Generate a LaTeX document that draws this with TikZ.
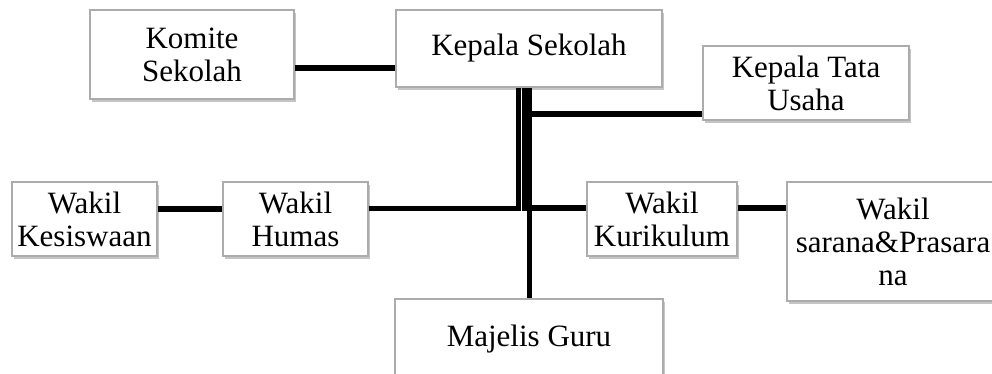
\documentclass[tikz,border=0pt]{standalone}
\usepackage{fontspec}
\setmainfont{Liberation Serif}
\usetikzlibrary{shadows}
\tikzset{
  box/.style={draw=gray!65, line width=0.7pt, fill=white, inner sep=0pt, align=center,
    font=\fontsize{15.5}{16.5}\selectfont,
    drop shadow={shadow xshift=0.8pt, shadow yshift=-1.4pt, opacity=0.45, fill=gray}},
  conn/.style={line width=3pt},
  vconn/.style={line width=2.5pt}
}
\begin{document}
\begin{tikzpicture}[x=0.5pt,y=-0.5pt]
\useasboundingbox (0,0) rectangle (992,374);
\clip (0,0) rectangle (992,374);
\fill[white] (0,0) rectangle (992,374);
% nodes
\node[box, minimum width=102pt, minimum height=44.5pt] (komite) at (192,54.5) {Komite\\Sekolah};
\node[box, minimum width=133pt, minimum height=38.5pt] (kepala) at (529,48.5) {Kepala Sekolah};
\node[box, minimum width=103pt, minimum height=37pt] (tata) at (806,83) {Kepala Tata\\Usaha};
\node[box, minimum width=72.5pt, minimum height=37pt] (kesis) at (84.5,219) {Wakil\\Kesiswaan};
\node[box, minimum width=72.5pt, minimum height=37pt] (humas) at (295.5,219) {Wakil\\Humas};
\node[box, minimum width=75pt, minimum height=37pt] (kurik) at (662,219) {Wakil\\Kurikulum};
\node[box, minimum width=106pt, minimum height=59.5pt] (sarana) at (893,241.5) {Wakil\\sarana\&Prasara\\na};
\node[box, minimum width=134pt, minimum height=40.5pt] (majelis) at (529,339.5) {Majelis Guru};
% helper coordinates
\coordinate (kk) at (0,68);
\coordinate (row) at (0,209);
\coordinate (tu) at (0,114);
\coordinate (kr) at (0,208);
\coordinate (va) at (518.5,0);
\coordinate (vb) at (524,0);
\coordinate (vc) at (529.7,0);
\coordinate (vbend) at (524,211);
% connectors
\draw[conn] (komite.east |- kk) -- (kepala.west |- kk);
\draw[conn] (kesis.east |- row) -- (humas.west |- row);
\draw[vconn] (humas.east |- row) -- (va |- row) -- (va |- kepala.south);
\draw[vconn] (kepala.south -| vb) -- (vbend);
\draw[vconn] (kepala.south -| vc) -- (majelis.north -| vc);
\draw[conn] (vc |- tu) -- (tata.west |- tu);
\draw[conn] (vc |- kr) -- (kurik.west |- kr);
\draw[conn] (kurik.east |- kr) -- (sarana.west |- kr);
\end{tikzpicture}
\end{document}
